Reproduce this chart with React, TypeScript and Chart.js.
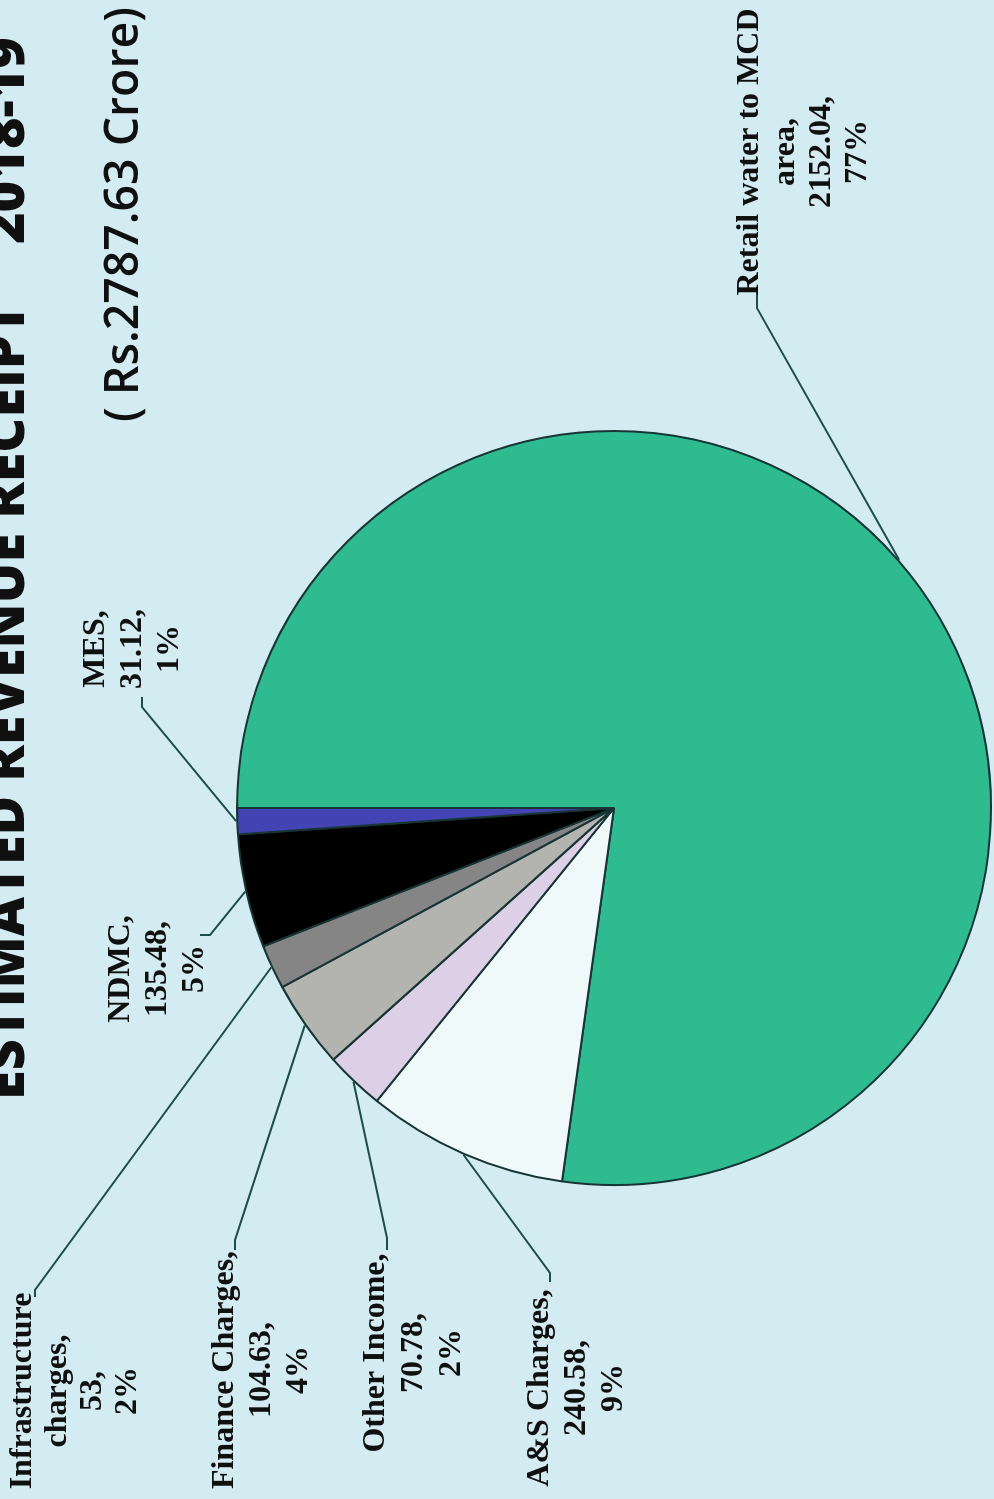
import React, { useEffect, useRef } from "react";
import { Chart, registerables } from "chart.js";

Chart.register(...registerables);

// ---- data ----
const categories = [
  "Retail water to MCD area",
  "A&S Charges",
  "Other Income",
  "Finance Charges",
  "Infrastructure charges",
  "NDMC",
  "MES",
];
const values = [2152.04, 240.58, 70.78, 104.63, 53, 135.48, 31.12];
const percentLabels = ["77%", "9%", "2%", "4%", "2%", "5%", "1%"];
const nameLines = [
  ["Retail water to MCD", "area,"],
  ["A&S Charges,"],
  ["Other Income,"],
  ["Finance Charges,"],
  ["Infrastructure", "charges,"],
  ["NDMC,"],
  ["MES,"],
];
const sliceColors = ["#2fbb90", "#f0f9fa", "#dccfe6", "#b3b3b0", "#858585", "#000000", "#4343b3"];

const titleMain = "ESTIMATED REVENUE RECEIPT";
const titleYear = "2018-19";
const subtitle = "( Rs.2787.63 Crore)";

// ---- layout (in the unrotated landscape canvas) ----
const CW = 1499;
const CH = 994;
const labelLayout = [
  { cx: 1347, y0: 750, lh: 36, stub: [[1212, 757], [1191, 757]] },
  { cx: 111, y0: 540, lh: 37, stub: [[217, 550], [226, 550]] },
  { cx: 146, y0: 376, lh: 38, stub: [[249, 387], [261, 387]] },
  { cx: 129, y0: 225, lh: 37, stub: [[249, 235], [259, 235]] },
  { cx: 108, y0: 23, lh: 35, stub: [[202, 35], [209, 35]] },
  { cx: 530, y0: 121, lh: 37, stub: [[564, 200], [564, 210]] },
  { cx: 850, y0: 96, lh: 37, stub: [[802, 142], [792, 142]] },
];

const overlayPlugin = {
  id: "overlay",
  afterDatasetsDraw(chart: any) {
    const ctx = chart.ctx as CanvasRenderingContext2D;
    const meta = chart.getDatasetMeta(0);
    ctx.save();
    meta.data.forEach((arc: any, i: number) => {
      const p = arc.getProps(["x", "y", "startAngle", "endAngle", "outerRadius"], true);
      const mid = (p.startAngle + p.endAngle) / 2;
      const ex = p.x + Math.cos(mid) * (p.outerRadius + 1);
      const ey = p.y + Math.sin(mid) * (p.outerRadius + 1);
      const L = labelLayout[i];
      ctx.strokeStyle = "#1a4e4e";
      ctx.lineWidth = 2;
      ctx.beginPath();
      ctx.moveTo(L.stub[0][0], L.stub[0][1]);
      ctx.lineTo(L.stub[1][0], L.stub[1][1]);
      ctx.lineTo(ex, ey);
      ctx.stroke();

      const lines = [...nameLines[i], `${values[i]},`, percentLabels[i]];
      ctx.font = "bold 32px 'Liberation Serif', 'Times New Roman', serif";
      ctx.textAlign = "center";
      ctx.textBaseline = "middle";
      ctx.fillStyle = "#101010";
      lines.forEach((t, k) => ctx.fillText(t, L.cx, L.y0 + k * L.lh));
    });

    // title (partly cut off at top edge)
    ctx.fillStyle = "#101010";
    ctx.textBaseline = "alphabetic";
    ctx.font = "800 100px 'Open Sans', sans-serif";
    const wMain = ctx.measureText(titleMain).width;
    const tSize = (100 * 797) / wMain;
    ctx.font = `800 ${tSize}px 'Open Sans', sans-serif`;
    ctx.textAlign = "left";
    ctx.fillText(titleMain, 399, 24);
    ctx.textAlign = "right";
    ctx.fillText(titleYear, 1462, 24);

    // subtitle
    ctx.font = "600 100px 'Open Sans', sans-serif";
    const wSub = ctx.measureText(subtitle).width;
    const sSize = (100 * 415) / wSub;
    ctx.font = `600 ${sSize}px 'Open Sans', sans-serif`;
    ctx.textAlign = "left";
    ctx.fillText(subtitle, 1077, 138);
    ctx.restore();
  },
};

export default function App() {
  const ref = useRef<HTMLCanvasElement | null>(null);
  useEffect(() => {
    if (!ref.current) return;
    const chart = new Chart(ref.current, {
      type: "pie",
      data: {
        labels: categories,
        datasets: [
          {
            data: values,
            backgroundColor: sliceColors,
            borderColor: "#173535",
            borderWidth: 2,
          },
        ],
      },
      options: {
        responsive: false,
        animation: false,
        devicePixelRatio: 1,
        rotation: 0,
        layout: { padding: { left: 313, right: 430, top: 236, bottom: 2 } },
        plugins: {
          legend: { display: false },
          tooltip: { enabled: false },
          title: { display: false },
        },
      },
      plugins: [overlayPlugin],
    } as any);
    return () => chart.destroy();
  }, []);

  return (
    <div
      style={{
        position: "fixed",
        left: 0,
        top: 0,
        width: 994,
        height: 1499,
        overflow: "hidden",
        background: "#d3ecf2",
      }}
    >
      <div
        style={{
          position: "absolute",
          left: 0,
          top: 0,
          width: CW,
          height: CH,
          transformOrigin: "0 0",
          transform: `translateY(${CW}px) rotate(-90deg)`,
        }}
      >
        <canvas ref={ref} width={CW} height={CH} style={{ display: "block", width: CW, height: CH }} />
      </div>
    </div>
  );
}
